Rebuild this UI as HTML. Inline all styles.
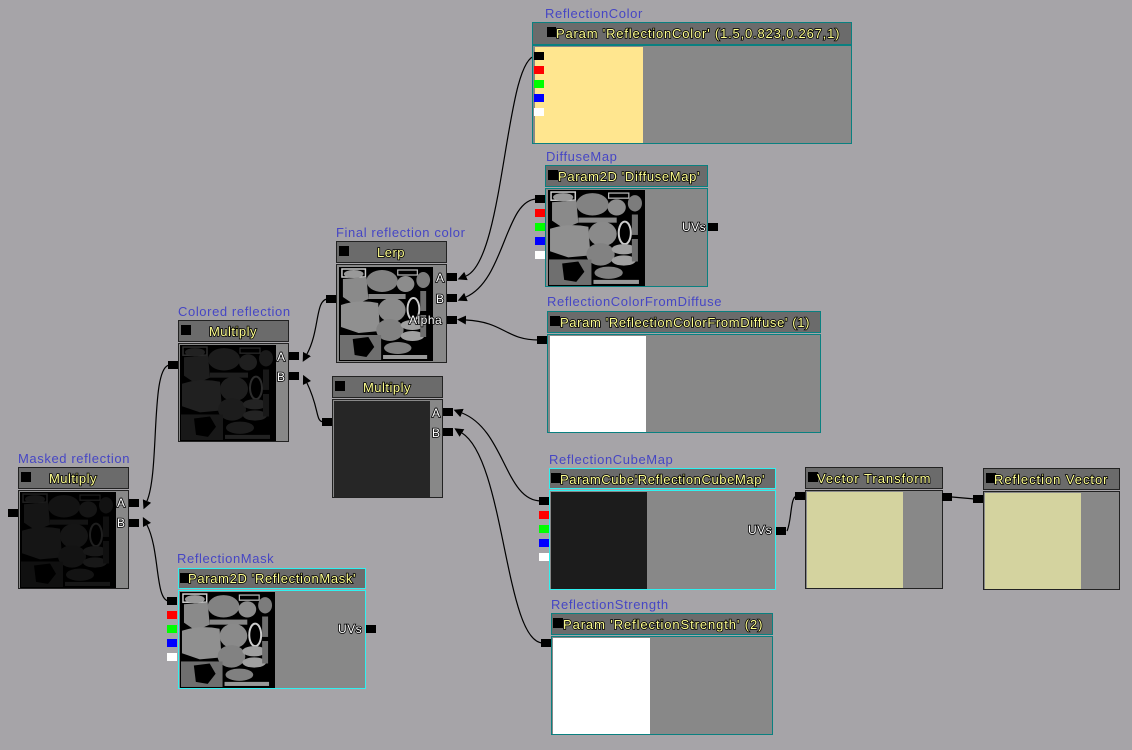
<!DOCTYPE html>
<html><head><meta charset="utf-8"><style>
html,body{margin:0;padding:0;background:#a6a4a8;}
svg{display:block;font-family:"Liberation Sans","DejaVu Sans",sans-serif;}
.lbl{fill:#4646c4;font-size:13px;letter-spacing:0.6px;}
.ht{fill:#ffff90;font-size:13px;stroke:#000;stroke-width:1.6px;paint-order:stroke;letter-spacing:0.5px;}
.pt{fill:#fff;font-size:12px;stroke:#000;stroke-width:1.6px;paint-order:stroke;letter-spacing:0.5px;}
.hd{fill:#6b6b6b;}
.bd{fill:#888;}
.w{fill:none;stroke:#000;stroke-width:1.2;}
</style></head><body>
<svg width="1132" height="750" viewBox="0 0 1132 750" xmlns="http://www.w3.org/2000/svg">
<defs>
<symbol id="tex" viewBox="0 0 96 94" preserveAspectRatio="none">
<rect width="96" height="94" fill="#000"/>
<rect x="3" y="2" width="24" height="8" fill="none" stroke="#ccc" stroke-width="1.5"/>
<ellipse cx="15" cy="7" rx="10" ry="4" fill="#999"/>
<path d="M4 12 L28 10 L30 32 L16 38 L4 30Z" fill="#8a8a8a"/>
<ellipse cx="44" cy="14" rx="16" ry="11" fill="#828282"/>
<rect x="60" y="3" width="20" height="5" fill="none" stroke="#bbb" stroke-width="1.2"/>
<ellipse cx="68" cy="17" rx="9" ry="8" fill="#8c8c8c"/>
<ellipse cx="86" cy="13" rx="7" ry="8" fill="#7c7c7c"/>
<rect x="30" y="27" width="38" height="5" fill="#888"/>
<rect x="83" y="24" width="6" height="20" fill="#6e6e6e"/>
<path d="M2 38 Q20 32 40 36 L42 64 L20 66 L2 60Z" fill="#909090"/>
<ellipse cx="54" cy="43" rx="14" ry="12" fill="#8a8a8a"/>
<ellipse cx="76" cy="42" rx="6" ry="11" fill="none" stroke="#ccc" stroke-width="2"/>
<ellipse cx="52" cy="63" rx="14" ry="11" fill="#828282"/>
<ellipse cx="75" cy="58" rx="12" ry="5" fill="#a0a0a0"/>
<ellipse cx="75" cy="69" rx="12" ry="5" fill="#a0a0a0"/>
<rect x="83" y="48" width="6" height="22" fill="#6e6e6e"/>
<rect x="1" y="68" width="42" height="25" fill="#6f6f6f"/>
<path d="M14 72 L30 70 L36 80 L28 90 L16 88Z" fill="#000"/>
<ellipse cx="60" cy="81" rx="14" ry="6" fill="#808080"/>
<rect x="45" y="88" width="45" height="4" fill="#999"/>
</symbol>
<marker id="ar" viewBox="0 0 10 10" refX="0" refY="5" markerWidth="9" markerHeight="9" orient="auto-start-reverse" markerUnits="userSpaceOnUse"><path d="M0 0 L10 5 L0 10Z" fill="#000"/></marker>
</defs>

<g class="w">
<path d="M466 276 C505 260,505 56,536 56" marker-start="url(#ar)"/>
<path d="M466 297 C505 280,505 199,537 199" marker-start="url(#ar)"/>
<path d="M466 320 C505 322,505 340,539 340" marker-start="url(#ar)"/>
<path d="M307 354 C320 330,315 299,328 299" marker-start="url(#ar)"/>
<path d="M307 383 C320 410,315 422,324 422" marker-start="url(#ar)"/>
<path d="M462 413 C505 430,505 501,541 501" marker-start="url(#ar)"/>
<path d="M462 433 C505 460,505 643,543 643" marker-start="url(#ar)"/>
<path d="M147 501 C160 470,150 365,170 365" marker-start="url(#ar)"/>
<path d="M147 525 C160 550,155 601,169 601" marker-start="url(#ar)"/>
<path d="M787 531 C792 520,790 496,797 496"/>
<path d="M952 497 L975 499"/>
</g>

<!-- ReflectionColor -->
<text x="545" y="18" class="lbl">ReflectionColor</text>
<rect x="532.5" y="22.5" width="319" height="22" class="hd" stroke="#0a8080"/>
<rect x="547" y="27" width="9" height="10" fill="#000"/>
<text x="556" y="38" class="ht" textLength="284" lengthAdjust="spacing">Param 'ReflectionColor' (1.5,0.823,0.267,1)</text>
<rect x="532.5" y="45.5" width="319" height="98" class="bd" stroke="#0a8080"/>
<rect x="535" y="47" width="108" height="96" fill="#ffe68f"/>
<rect x="534" y="52" width="10" height="8" fill="#000"/><rect x="534" y="66" width="10" height="8" fill="#f00"/><rect x="534" y="80" width="10" height="8" fill="#0f0"/><rect x="534" y="94" width="10" height="8" fill="#00f"/><rect x="534" y="108" width="10" height="8" fill="#fff"/>

<!-- DiffuseMap -->
<text x="546" y="161" class="lbl">DiffuseMap</text>
<rect x="545.5" y="165.5" width="162" height="21" class="hd" stroke="#0a8080"/>
<rect x="548" y="170" width="10" height="10" fill="#000"/>
<text x="558" y="181" class="ht" textLength="142" lengthAdjust="spacing">Param2D 'DiffuseMap'</text>
<rect x="545.5" y="188.5" width="162" height="98" class="bd" stroke="#0a8080"/>
<use href="#tex" x="548" y="190" width="97" height="96"/>
<text x="682" y="231" class="pt">UVs</text>
<rect x="708" y="223" width="10" height="8" fill="#000"/>
<rect x="535" y="195" width="10" height="8" fill="#000"/><rect x="535" y="209" width="10" height="8" fill="#f00"/><rect x="535" y="223" width="10" height="8" fill="#0f0"/><rect x="535" y="237" width="10" height="8" fill="#00f"/><rect x="535" y="251" width="10" height="8" fill="#fff"/>

<!-- ReflectionColorFromDiffuse -->
<text x="547" y="306" class="lbl">ReflectionColorFromDiffuse</text>
<rect x="547.5" y="311.5" width="273" height="21" class="hd" stroke="#0a8080"/>
<rect x="550" y="316" width="10" height="10" fill="#000"/>
<text x="560" y="327" class="ht" textLength="250" lengthAdjust="spacing">Param 'ReflectionColorFromDiffuse' (1)</text>
<rect x="547.5" y="334.5" width="273" height="98" class="bd" stroke="#0a8080"/>
<rect x="550" y="336" width="96" height="96" fill="#fff"/>
<rect x="537" y="336" width="10" height="8" fill="#000"/>

<!-- Lerp -->
<text x="336" y="237" class="lbl">Final reflection color</text>
<rect x="336.5" y="241.5" width="110" height="21" class="hd" stroke="#222"/>
<rect x="339" y="246" width="10" height="10" fill="#000"/>
<text x="391" y="257" class="ht" text-anchor="middle">Lerp</text>
<rect x="336.5" y="264.5" width="110" height="98" class="bd" stroke="#222"/>
<use href="#tex" x="339" y="267" width="94" height="94"/>
<text x="436" y="282" class="pt">A</text><text x="436" y="303" class="pt">B</text><text x="409" y="324" class="pt">Alpha</text>
<rect x="447" y="273" width="10" height="8" fill="#000"/><rect x="447" y="294" width="10" height="8" fill="#000"/><rect x="447" y="316" width="10" height="8" fill="#000"/>
<rect x="326" y="295" width="10" height="8" fill="#000"/>

<!-- Colored reflection -->
<text x="178" y="316" class="lbl">Colored reflection</text>
<rect x="178.5" y="320.5" width="110" height="21" class="hd" stroke="#222"/>
<rect x="181" y="325" width="10" height="10" fill="#000"/>
<text x="233" y="336" class="ht" text-anchor="middle">Multiply</text>
<rect x="178.5" y="343.5" width="110" height="98" class="bd" stroke="#222"/>
<use href="#tex" x="180" y="345" width="96" height="96"/>
<rect x="180" y="345" width="96" height="96" fill="#000" opacity="0.78"/>
<text x="277" y="361" class="pt">A</text><text x="277" y="381" class="pt">B</text>
<rect x="289" y="352" width="10" height="8" fill="#000"/><rect x="289" y="372" width="10" height="8" fill="#000"/>
<rect x="168" y="361" width="10" height="8" fill="#000"/>

<!-- Multiply 2 -->
<rect x="332.5" y="376.5" width="110" height="21" class="hd" stroke="#222"/>
<rect x="335" y="381" width="10" height="10" fill="#000"/>
<text x="387" y="392" class="ht" text-anchor="middle">Multiply</text>
<rect x="332.5" y="399.5" width="110" height="98" class="bd" stroke="#222"/>
<rect x="334" y="401" width="96" height="96" fill="#262626"/>
<text x="432" y="417" class="pt">A</text><text x="432" y="437" class="pt">B</text>
<rect x="443" y="408" width="10" height="8" fill="#000"/><rect x="443" y="428" width="10" height="8" fill="#000"/>
<rect x="322" y="418" width="10" height="8" fill="#000"/>

<!-- Masked reflection -->
<text x="18" y="463" class="lbl">Masked reflection</text>
<rect x="18.5" y="467.5" width="110" height="21" class="hd" stroke="#222"/>
<rect x="21" y="472" width="10" height="10" fill="#000"/>
<text x="73" y="483" class="ht" text-anchor="middle">Multiply</text>
<rect x="18.5" y="490.5" width="110" height="98" class="bd" stroke="#222"/>
<use href="#tex" x="20" y="492" width="96" height="96"/>
<rect x="20" y="492" width="96" height="96" fill="#000" opacity="0.85"/>
<text x="117" y="507" class="pt">A</text><text x="117" y="527" class="pt">B</text>
<rect x="129" y="499" width="10" height="8" fill="#000"/><rect x="129" y="519" width="10" height="8" fill="#000"/>
<rect x="8" y="509" width="10" height="8" fill="#000"/>

<!-- ReflectionMask -->
<text x="177" y="563" class="lbl">ReflectionMask</text>
<rect x="178.5" y="568.5" width="187" height="20" class="hd" stroke="#30f0f0"/>
<rect x="180" y="573" width="10" height="10" fill="#000"/>
<text x="188" y="583" class="ht" textLength="168" lengthAdjust="spacing">Param2D 'ReflectionMask'</text>
<rect x="178.5" y="590.5" width="187" height="98" class="bd" stroke="#30f0f0"/>
<use href="#tex" x="180" y="592" width="95" height="96"/>
<text x="338" y="633" class="pt">UVs</text>
<rect x="366" y="625" width="10" height="8" fill="#000"/>
<rect x="167" y="597" width="10" height="8" fill="#000"/><rect x="167" y="611" width="10" height="8" fill="#f00"/><rect x="167" y="625" width="10" height="8" fill="#0f0"/><rect x="167" y="639" width="10" height="8" fill="#00f"/><rect x="167" y="653" width="10" height="8" fill="#fff"/>

<!-- ReflectionCubeMap -->
<text x="549" y="464" class="lbl">ReflectionCubeMap</text>
<rect x="549.5" y="468.5" width="226" height="20" class="hd" stroke="#30f0f0"/>
<rect x="551" y="473" width="10" height="10" fill="#000"/>
<text x="560" y="484" class="ht" textLength="205" lengthAdjust="spacing">ParamCube'ReflectionCubeMap'</text>
<rect x="549.5" y="490.5" width="226" height="99" class="bd" stroke="#30f0f0"/>
<rect x="551" y="492" width="96" height="97" fill="#1c1c1c"/>
<text x="748" y="534" class="pt">UVs</text>
<rect x="776" y="527" width="10" height="8" fill="#000"/>
<rect x="539" y="497" width="10" height="8" fill="#000"/><rect x="539" y="511" width="10" height="8" fill="#f00"/><rect x="539" y="525" width="10" height="8" fill="#0f0"/><rect x="539" y="539" width="10" height="8" fill="#00f"/><rect x="539" y="553" width="10" height="8" fill="#fff"/>

<!-- ReflectionStrength -->
<text x="551" y="609" class="lbl">ReflectionStrength</text>
<rect x="551.5" y="613.5" width="221" height="21" class="hd" stroke="#0a8080"/>
<rect x="553" y="618" width="10" height="10" fill="#000"/>
<text x="563" y="629" class="ht" textLength="200" lengthAdjust="spacing">Param 'ReflectionStrength' (2)</text>
<rect x="551.5" y="636.5" width="221" height="98" class="bd" stroke="#0a8080"/>
<rect x="553" y="638" width="97" height="96" fill="#fff"/>
<rect x="541" y="639" width="10" height="8" fill="#000"/>

<!-- Vector Transform -->
<rect x="805.5" y="467.5" width="137" height="21" class="hd" stroke="#222"/>
<rect x="808" y="472" width="10" height="10" fill="#000"/>
<text x="817" y="483" class="ht" textLength="114" lengthAdjust="spacing">Vector Transform</text>
<rect x="805.5" y="490.5" width="137" height="98" class="bd" stroke="#222"/>
<rect x="807" y="492" width="96" height="96" fill="#d4d39f"/>
<rect x="795" y="492" width="10" height="8" fill="#000"/>
<rect x="942" y="493" width="10" height="8" fill="#000"/>

<!-- Reflection Vector -->
<rect x="983.5" y="468.5" width="136" height="21" class="hd" stroke="#222"/>
<rect x="986" y="473" width="10" height="10" fill="#000"/>
<text x="994" y="484" class="ht" textLength="114" lengthAdjust="spacing">Reflection Vector</text>
<rect x="983.5" y="491.5" width="136" height="98" class="bd" stroke="#222"/>
<rect x="985" y="493" width="96" height="96" fill="#d4d39f"/>
<rect x="973" y="495" width="10" height="8" fill="#000"/>
</svg>
</body></html>
